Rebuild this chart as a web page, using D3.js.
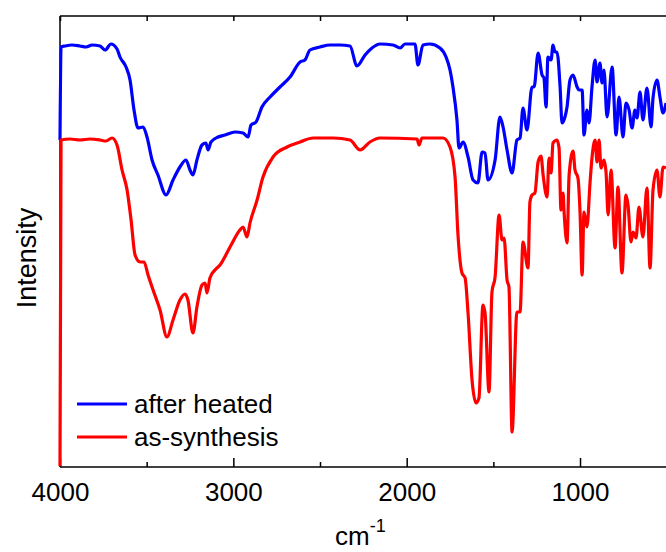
<!DOCTYPE html>
<html><head><meta charset="utf-8">
<script src="https://cdn.jsdelivr.net/npm/d3@7/dist/d3.min.js"></script>
<style>body{margin:0;background:#fff}svg{display:block}text{font-family:"Liberation Sans",Arial,sans-serif;fill:#000}</style>
</head><body>
<script>
// FTIR spectra (wavenumber cm^-1, intensity a.u.)
const seriesNames = ["after heated", "as-synthesis"];
const seriesColors = ["#0000ff", "#ff0000"];
const heatedWn = [4000,3994,3971,3931,3885,3850,3815,3769,3740,3706,3671,3654,3619,3596,3573,3550,3521,3498,3469,3435,3388,3348,3308,3273,3250,3233,3210,3181,3158,3146,3129,3088,3048,2990,2944,2915,2898,2869,2835,2788,2731,2673,2615,2587,2558,2500,2442,2385,2327,2287,2240,2200,2154,2079,2038,2010,1952,1935,1906,1865,1808,1773,1750,1733,1710,1698,1675,1646,1617,1589,1565,1548,1531,1490,1462,1444,1421,1392,1364,1346,1329,1306,1277,1265,1242,1219,1208,1196,1185,1167,1156,1144,1133,1115,1104,1087,1075,1058,1040,1017,1006,988,977,960,948,931,913,902,885,873,862,844,815,792,775,752,735,717,700,683,671,654,637,614,590,579,556,539,521,504];
const heatedVal = [327,420,421,422,421,420,422,421,417,423,418,410,400,387,357,339,340,330,307,292,272,287,300,307,297,292,307,322,324,317,325,330,332,335,334,330,342,345,360,370,380,390,405,407,417,420,422,422,421,401,412,419,423,422,419,423,423,402,422,423,419,410,397,380,347,319,325,310,287,284,315,314,287,307,350,340,317,294,327,329,359,337,380,380,414,392,389,360,410,407,422,415,415,380,344,350,360,387,392,380,377,377,332,357,344,380,407,385,404,384,397,350,400,332,370,330,364,357,339,357,349,375,347,379,340,369,387,370,354,364];
const synthWn = [4000,3994,3942,3885,3827,3769,3735,3700,3671,3642,3613,3590,3567,3538,3515,3492,3463,3423,3383,3348,3308,3279,3262,3233,3210,3181,3163,3152,3135,3106,3077,3019,2962,2944,2921,2904,2863,2829,2771,2690,2615,2540,2425,2327,2269,2212,2154,1940,1929,1912,1790,1750,1721,1704,1681,1663,1646,1623,1600,1583,1560,1548,1525,1508,1490,1467,1450,1438,1421,1410,1392,1364,1346,1329,1300,1289,1277,1260,1242,1225,1213,1190,1179,1167,1156,1133,1121,1110,1098,1092,1075,1063,1040,1029,1012,1000,988,977,960,942,931,913,902,890,879,862,850,838,821,798,781,758,735,723,706,694,677,660,637,614,596,579,556,539,521,504];
const synthVal = [1,327,328,327,328,327,326,329,322,297,277,247,212,205,205,192,177,157,130,147,167,173,167,134,160,182,184,174,189,197,202,220,237,240,230,244,267,290,310,320,325,329,329,327,317,325,329,328,322,329,329,320,290,232,194,189,154,87,64,69,162,154,75,175,190,252,227,229,187,180,35,155,155,225,199,265,272,274,305,311,292,270,309,294,324,327,319,257,274,255,224,292,316,297,289,255,192,255,240,285,309,327,305,327,299,307,295,252,297,219,280,194,272,262,225,235,229,260,230,279,199,277,297,270,300,299];
const xMajorTicks = [4000, 3000, 2000, 1000];
const xMinorTicks = [3500, 2500, 1500];
const xLabel = "cm";
const xLabelSup = "-1";
const yLabel = "Intensity";

const W = 666, H = 552;
const L = 60, T = 16, B = 467;
const svg = d3.select("body").append("svg").attr("width", W).attr("height", H);

const x = d3.scaleLinear().domain([4000, 500]).range([L, 666.7]);
const y = d3.scaleLinear().domain([0, 451]).range([B, T]);

// frame
svg.append("line").attr("x1", L).attr("x2", 700).attr("y1", T).attr("y2", T).attr("stroke", "#000").attr("stroke-width", 1.5);
svg.append("line").attr("x1", L).attr("x2", L).attr("y1", T).attr("y2", B).attr("stroke", "#000").attr("stroke-width", 1.5);

// bottom axis (ticks inward)
const axB = svg.append("g").attr("transform", `translate(0,${B})`)
  .call(d3.axisBottom(x).tickValues(xMajorTicks).tickSize(-9).tickPadding(14).tickFormat(d3.format("d")));
axB.select(".domain").attr("stroke-width", 1.5).attr("d", `M${L},0H700`);
axB.selectAll(".tick line").attr("stroke-width", 1.5);
axB.selectAll(".tick text").attr("font-size", 26).attr("dy", "0.71em").attr("y", 16)
  .style("font-family", '"Liberation Sans",Arial,sans-serif');
svg.append("g").attr("transform", `translate(0,${B})`)
  .call(d3.axisBottom(x).tickValues(xMinorTicks).tickSize(-5).tickFormat(""))
  .call(g => { g.select(".domain").remove(); g.selectAll(".tick line").attr("stroke-width", 1.5); });
// top ticks
svg.append("g").attr("transform", `translate(0,${T})`)
  .call(d3.axisTop(x).tickValues(xMajorTicks.concat(xMinorTicks)).tickSize(-5).tickFormat(""))
  .call(g => { g.select(".domain").remove(); g.selectAll(".tick line").attr("stroke-width", 1.5); });

// data
const data = [
  heatedWn.map((w, i) => [w, heatedVal[i]]),
  synthWn.map((w, i) => [w, synthVal[i]])
];
const line = d3.line().x(d => x(d[0])).y(d => y(d[1])).curve(d3.curveMonotoneX);
data.forEach((s, i) => {
  svg.append("path").datum(s).attr("d", line).attr("fill", "none")
    .attr("stroke", seriesColors[i]).attr("stroke-width", 3.2).attr("stroke-linejoin", "round");
});

// legend
seriesNames.forEach((n, i) => {
  const yy = 404 + i * 33;
  svg.append("line").attr("x1", 77).attr("x2", 127).attr("y1", yy).attr("y2", yy)
    .attr("stroke", seriesColors[i]).attr("stroke-width", 3.2);
  svg.append("text").attr("x", 134).attr("y", yy + 9).attr("font-size", 26).text(n);
});

// axis labels
const xl = svg.append("text").attr("x", 335).attr("y", 545).attr("font-size", 26);
xl.append("tspan").text(xLabel);
xl.append("tspan").attr("font-size", 18).attr("dy", -13).text(xLabelSup);
svg.append("text").attr("transform", "translate(36,258) rotate(-90)").attr("text-anchor", "middle")
  .attr("font-size", 27).text(yLabel);
</script>
</body></html>
